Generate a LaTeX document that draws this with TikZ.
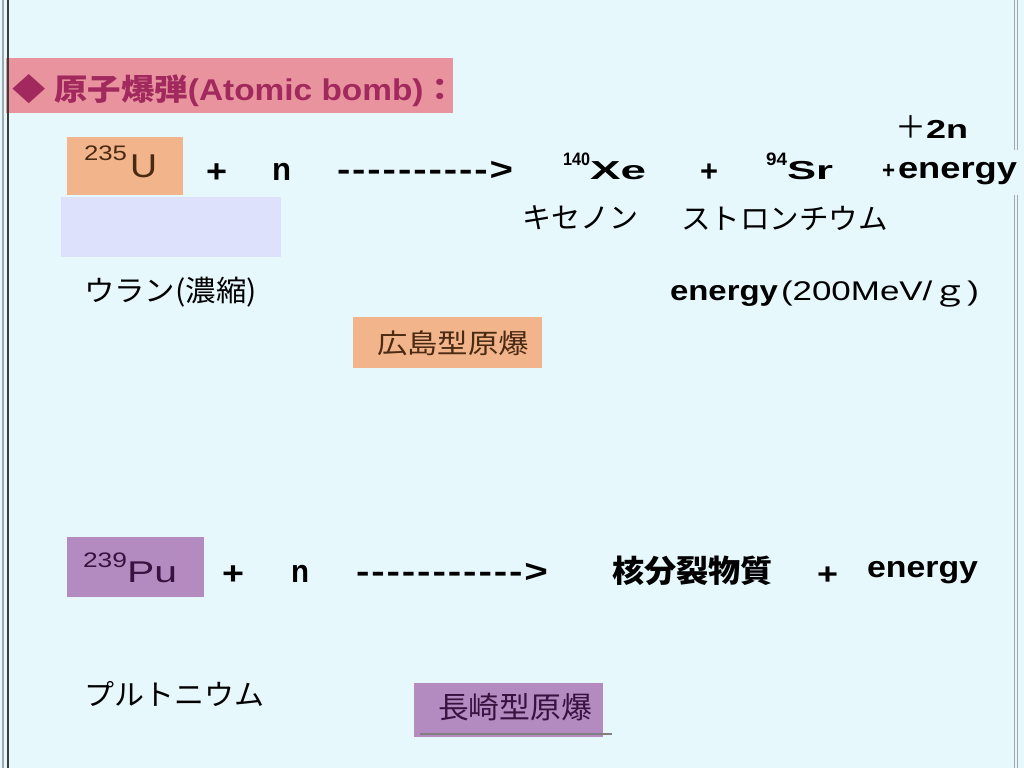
\documentclass[tikz,border=0pt]{standalone}
\usepackage{fontspec}
\usepackage{graphicx}
\setmainfont{Liberation Sans}
\newfontfamily\jp{Noto Sans CJK JP}
\definecolor{bgc}{HTML}{E7F8FD}
\definecolor{hdrfill}{HTML}{E8939D}
\definecolor{hdrtext}{HTML}{A1295D}
\definecolor{orangefill}{HTML}{F2B48B}
\definecolor{lavfill}{HTML}{DDE1FB}
\definecolor{purplefill}{HTML}{B38BC1}
\definecolor{browntext}{HTML}{4A2A12}
\definecolor{purpletext}{HTML}{3A1240}
\definecolor{borderdark}{HTML}{3C3C3C}
\definecolor{bordergray}{HTML}{A0A8AC}
\newcommand{\fs}[1]{\fontsize{#1}{#1}\selectfont}
\newcommand{\fitw}[2]{\resizebox{#1pt}{\height}{#2}}
\newcommand{\hy}{\mbox{-}\kern1.5pt}
\tikzset{txt/.style={inner sep=0pt, outer sep=0pt, anchor=base west},
  jtxt/.style={inner sep=0pt, outer sep=0pt, anchor=center}}
\begin{document}
\begin{tikzpicture}[x=1pt,y=-1pt]
\useasboundingbox (0,0) rectangle (1024,768);
\fill[bgc] (0,0) rectangle (1024,768);
% boxes
\fill[hdrfill] (6,58) rectangle (453,113);
\fill[orangefill] (67,137) rectangle (183,195);
\fill[lavfill] (61,197) rectangle (281,257);
\fill[orangefill] (353,317) rectangle (542,368);
\fill[purplefill] (67,537) rectangle (204,597);
\fill[purplefill] (414,683) rectangle (603,737);
\draw[gray, line width=1.5pt] (420,734) -- (612,734);
% borders
\draw[bordergray, line width=2pt] (3,0) -- (3,768);
\draw[borderdark, line width=1.5pt] (8,0) -- (8,768);
\draw[bordergray, line width=1.5pt] (1014.5,0) -- (1014.5,150) (1014.5,195) -- (1014.5,768);
\draw[bordergray, line width=1.5pt] (1017.5,0) -- (1017.5,150) (1017.5,195) -- (1017.5,768);
% header
\node[txt, text=hdrtext] (hdr) at (12,100) {\fitw{445}{\fs{30}\bfseries{\jp ◆}\hspace{8pt}{\jp 原子爆弾}(Atomic bomb){\jp ：}}};
% row 1
\node[txt, text=browntext] (u235) at (84,177) {\raisebox{17pt}{\fitw{43}{\fs{21}235}}\hspace{3pt}\fitw{27}{\fs{33}U}};
\node[txt] (p1) at (206,182) {\fitw{21}{\fs{32}\bfseries +}};
\node[txt] (n1) at (272,180) {\fitw{19}{\fs{32}\bfseries n}};
\node[txt] (ar1) at (337,180) {\fitw{176}{\fs{32}\bfseries\hy\hy\hy\hy\hy\hy\hy\hy\hy\hy\mbox{>}}};
\node[txt] (xe) at (563,179) {\raisebox{14pt}{\fitw{27}{\fs{18}\bfseries 140}}\fitw{56}{\fs{26}\bfseries Xe}};
\node[txt] (p2) at (700,181) {\fitw{18}{\fs{30}\bfseries +}};
\node[txt] (sr) at (766,179) {\raisebox{14pt}{\fitw{21}{\fs{18}\bfseries 94}}\fitw{46}{\fs{26}\bfseries Sr}};
\node[txt] (en1) at (882,178) {\fitw{13}{\fs{24}\bfseries +}\hspace{3pt}\fitw{119}{\fs{30}\bfseries energy}};
\node[txt] (twon) at (895,138) {\fitw{31}{\fs{31}\jp ＋}\fitw{42}{\fs{26}\bfseries 2n}};
% katakana labels
\node[jtxt, anchor=west] (xek) at (522,218) {\fs{29}\jp キセノン};
\node[jtxt, anchor=west] (srk) at (681,218) {\fitw{207}{\fs{29}\jp ストロンチウム}};
\node[jtxt, anchor=west] (uk) at (84,292) {\fitw{173}{\fs{29}\jp ウラン(濃縮)}};
\node[txt] (en2) at (670,300) {\fitw{108}{\fs{28}\bfseries energy}\hspace{3pt}\fitw{198}{\fs{27}(200MeV/{\jp ｇ})}};
\node[jtxt, text=browntext] (hiro) at (453,343) {\fitw{152}{\fs{27}\jp 広島型原爆}};
% row 2
\node[txt, text=purpletext] (pu) at (83,582) {\raisebox{15pt}{\fitw{44}{\fs{21}239}}\fitw{50}{\fs{30}Pu}};
\node[txt] (p3) at (222,584) {\fitw{22}{\fs{32}\bfseries +}};
\node[txt] (n2) at (291,582) {\fitw{18}{\fs{32}\bfseries n}};
\node[txt] (ar2) at (356,582) {\fitw{192}{\fs{32}\bfseries\hy\hy\hy\hy\hy\hy\hy\hy\hy\hy\hy\mbox{>}}};
\node[jtxt, anchor=west] (kaku) at (612,571) {\fitw{161}{\fs{31}\jp\bfseries 核分裂物質}};
\node[txt] (p4) at (817,584) {\fitw{21}{\fs{30}\bfseries +}};
\node[txt] (en3) at (867,577) {\fitw{111}{\fs{30}\bfseries energy}};
\node[jtxt, anchor=west] (puk) at (84,694) {\fitw{180}{\fs{29}\jp プルトニウム}};
\node[jtxt, text=purpletext] (naga) at (515,707) {\fitw{154}{\fs{30}\jp 長崎型原爆}};
\end{tikzpicture}
\end{document}
